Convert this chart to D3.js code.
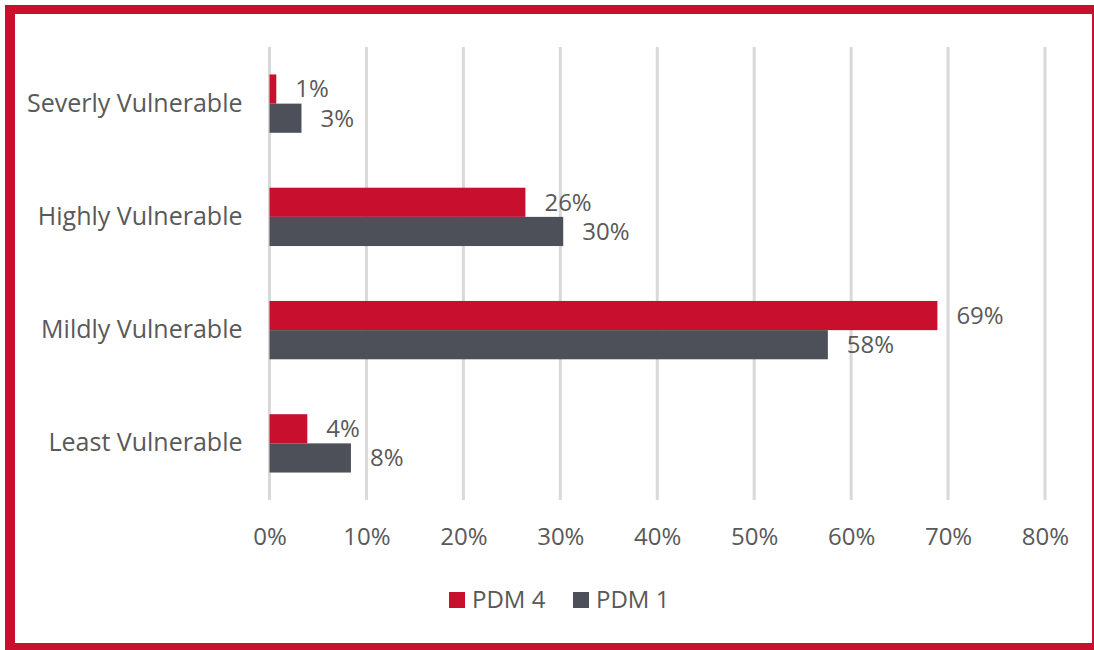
<!DOCTYPE html>
<html>
<head>
<meta charset="utf-8">
<script src="https://cdn.jsdelivr.net/npm/d3@7"></script>
<style>
  html, body { margin: 0; padding: 0; background: #fff; }
  svg text { font-family: "Open Sans", sans-serif; fill: #595959; }
</style>
</head>
<body>
<div id="chart"></div>
<script>
// chart data
const categories = ["Severly Vulnerable", "Highly Vulnerable", "Mildly Vulnerable", "Least Vulnerable"];
const seriesNames = ["PDM 4", "PDM 1"];
const pdm4 = [0.7, 26.4, 68.9, 3.9];
const pdm1 = [3.3, 30.3, 57.6, 8.4];
const xTicks = [0, 10, 20, 30, 40, 50, 60, 70, 80];

const colors = ["#C8102E", "#4D5059"];
const fontSize = 24;

const width = 1094, height = 650;

const svg = d3.select("#chart")
    .append("svg")
    .attr("width", width)
    .attr("height", height);

// red frame
svg.append("rect")
    .attr("x", 5).attr("y", 5)
    .attr("width", width - 5).attr("height", height - 5)
    .attr("fill", colors[0]);
svg.append("rect")
    .attr("x", 15).attr("y", 14)
    .attr("width", 1077).attr("height", 629)
    .attr("fill", "#fff");

const x = d3.scaleLinear()
    .domain([0, 80])
    .range([269.5, 1045]);

const y = d3.scaleBand()
    .domain(categories)
    .range([47, 500])
    .paddingInner(0.485)
    .paddingOuter(0.2425);

const ySub = d3.scaleBand()
    .domain(seriesNames)
    .range([0, y.bandwidth()]);

// gridlines
svg.append("g")
    .selectAll("line")
    .data(xTicks)
    .join("line")
    .attr("x1", d => x(d)).attr("x2", d => x(d))
    .attr("y1", 47).attr("y2", 500)
    .attr("stroke", "#D9D9D9")
    .attr("stroke-width", 3);

// x axis labels
const xAxis = svg.append("g")
    .attr("transform", "translate(0,500)")
    .call(d3.axisBottom(x).tickValues(xTicks).tickFormat(d => d + "%").tickSize(0).tickPadding(28));
xAxis.select(".domain").remove();
xAxis.selectAll("text")
    .attr("font-size", fontSize)
    .attr("font-family", "Open Sans, sans-serif")
    .attr("fill", "#595959");

// y axis labels
const yAxis = svg.append("g")
    .attr("transform", "translate(269.5,0)")
    .call(d3.axisLeft(y).tickSize(0).tickPadding(27));
yAxis.select(".domain").remove();
yAxis.selectAll("text")
    .attr("font-size", 25)
    .attr("font-family", "Open Sans, sans-serif")
    .attr("fill", "#595959");

// bars
const rows = categories.map((c, i) => ({cat: c, values: [pdm4[i], pdm1[i]]}));

const groups = svg.append("g")
    .selectAll("g")
    .data(rows)
    .join("g")
    .attr("transform", d => `translate(0,${y(d.cat)})`);

groups.selectAll("rect")
    .data(d => d.values.map((v, k) => ({series: seriesNames[k], value: v, k: k})))
    .join("rect")
    .attr("x", x(0))
    .attr("y", d => ySub(d.series))
    .attr("width", d => x(d.value) - x(0))
    .attr("height", ySub.bandwidth())
    .attr("fill", d => colors[d.k]);

groups.selectAll("text")
    .data(d => d.values.map((v, k) => ({series: seriesNames[k], value: v})))
    .join("text")
    .attr("x", d => x(d.value) + 19)
    .attr("y", d => ySub(d.series) + ySub.bandwidth() / 2)
    .attr("dy", "0.35em")
    .attr("font-size", fontSize)
    .text(d => Math.round(d.value) + "%");

// legend
const legend = svg.append("g")
    .attr("transform", "translate(449,600)");
const legendItems = legend.selectAll("g")
    .data(seriesNames)
    .join("g")
    .attr("transform", (d, i) => `translate(${i * 124},0)`);
legendItems.append("rect")
    .attr("x", 0).attr("y", -8)
    .attr("width", 16).attr("height", 16)
    .attr("fill", (d, i) => colors[i]);
legendItems.append("text")
    .attr("x", 23)
    .attr("dy", "0.35em")
    .attr("font-size", fontSize)
    .text(d => d);
</script>
</body>
</html>
